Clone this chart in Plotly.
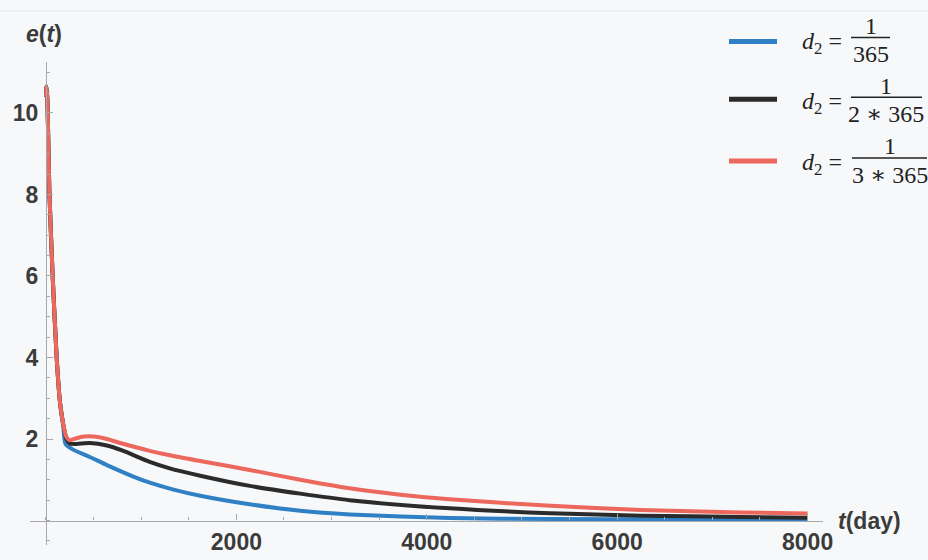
import plotly.graph_objects as go

# ---- data: e(t) for three values of d2 ----
t_red = [0, 6, 15, 35, 70, 112, 147, 182, 215, 250, 320, 400, 500, 640, 800, 1090,
         1300, 1620, 2140, 2670, 3190, 3700, 4240, 5300, 6250, 7300, 8000]
e_red = [10.4, 10.65, 10.3, 8.1, 6.0, 4.0, 2.9, 2.35, 2.05, 1.97, 2.02, 2.06, 2.06, 2.0,
         1.89, 1.71, 1.6, 1.46, 1.24, 1.0, 0.79, 0.64, 0.52, 0.36, 0.26, 0.2, 0.17]

t_black = [0, 6, 15, 35, 70, 112, 147, 182, 215, 250, 320, 460, 640, 800, 1090,
           1300, 1620, 2140, 2670, 3190, 4240, 5300, 6250, 7300, 8000]
e_black = [10.4, 10.65, 10.3, 8.1, 6.0, 4.0, 2.9, 2.35, 2.0, 1.89, 1.88, 1.9, 1.84,
           1.72, 1.44, 1.28, 1.1, 0.85, 0.66, 0.5, 0.3, 0.18, 0.12, 0.09, 0.07]

t_blue = [0, 6, 15, 35, 70, 112, 147, 182, 205, 285, 460, 640, 917, 1090, 1340,
          1620, 2140, 2670, 3190, 4240, 5300, 6500, 8000]
e_blue = [10.4, 10.65, 10.3, 8.1, 6.0, 4.0, 2.9, 2.3, 1.88, 1.74, 1.56, 1.36, 1.08,
          0.93, 0.76, 0.61, 0.4, 0.24, 0.15, 0.06, 0.04, 0.03, 0.02]

x_ticks = [2000, 4000, 6000, 8000]
y_ticks = [2, 4, 6, 8, 10]

series_names = ["1/365", "1/(2*365)", "1/(3*365)"]
denominators = ["365", "2 \u2217 365", "3 \u2217 365"]

BLUE = "#2f80c4"
BLACK = "#2b2b2b"
RED = "#ec675c"
AXIS = "#a8a8a8"
TEXT = "#3b3b3b"

W, H = 928, 560
# plot area in pixels
PL, PR, PT, PB = 30, 823, 62, 555
X_RANGE = [-168, 8162]
Y_RANGE = [-0.6, 11.25]


def px(x):
    return (x - PL) / (PR - PL)


def py(y):
    return (PB - y) / (PB - PT)


fig = go.Figure()
for t, e, c, n in [(t_blue, e_blue, BLUE, series_names[0]),
                   (t_black, e_black, BLACK, series_names[1]),
                   (t_red, e_red, RED, series_names[2])]:
    fig.add_trace(go.Scatter(x=t, y=e, mode="lines", name=n,
                             line=dict(color=c, width=4, shape="spline", smoothing=0.6),
                             showlegend=False))

tick_font = dict(family="Liberation Sans Narrow, Liberation Sans, Arial", size=23,
                 color=TEXT, weight="bold")

fig.update_layout(
    width=W, height=H,
    margin=dict(l=PL, r=W - PR, t=PT, b=H - PB),
    paper_bgcolor="#f7f8fa", plot_bgcolor="#f7f8fa",
    xaxis=dict(range=X_RANGE, showgrid=False, zeroline=False,
               anchor="free", position=(0 - Y_RANGE[0]) / (Y_RANGE[1] - Y_RANGE[0]),
               showline=True, linecolor=AXIS, linewidth=1.2,
               tickmode="array", tickvals=x_ticks, ticks="inside", ticklen=6,
               tickcolor=AXIS, tickwidth=1.2, tickfont=tick_font, ticklabelstandoff=1,
               minor=dict(tickmode="linear", tick0=0, dtick=500, ticks="inside",
                          ticklen=3, tickcolor=AXIS, tickwidth=1)),
    yaxis=dict(range=Y_RANGE, showgrid=False, zeroline=False,
               anchor="free", position=(0 - X_RANGE[0]) / (X_RANGE[1] - X_RANGE[0]),
               showline=True, linecolor=AXIS, linewidth=1.2,
               tickmode="array", tickvals=y_ticks, ticks="inside", ticklen=6,
               tickcolor=AXIS, tickwidth=1.2, tickfont=tick_font, ticklabelstandoff=3,
               minor=dict(tickmode="linear", tick0=0, dtick=0.5, ticks="inside",
                          ticklen=3, tickcolor=AXIS, tickwidth=1)),
)

label_font = dict(family="Liberation Sans, Arial", size=23, color=TEXT)
annotations = [
    dict(x=px(44), y=py(33), xref="paper", yref="paper", xanchor="center", yanchor="middle",
         text="<b><i>e</i>(<i>t</i>)</b>", showarrow=False, font=label_font),
    dict(x=px(836), y=py(530), xref="paper", yref="paper", xanchor="left", yanchor="middle",
         text="<b><i>t</i>(day)</b>", showarrow=False, font=label_font),
]
shapes = []

legend_rows = [
    # colour, line y, bar y, bar x0, bar x1
    (BLUE, 41, 37, 851, 890),
    (BLACK, 100, 98, 851, 922),
    (RED, 163, 160, 852, 927),
]
serif = dict(family="Liberation Serif, DejaVu Serif, serif", size=24, color="#222222")
for (col, ly, by, bx0, bx1), den in zip(legend_rows, denominators):
    shapes.append(dict(type="line", xref="paper", yref="paper",
                       x0=px(729), x1=px(777), y0=py(ly), y1=py(ly),
                       line=dict(color=col, width=5)))
    shapes.append(dict(type="line", xref="paper", yref="paper",
                       x0=px(bx0), x1=px(bx1), y0=py(by), y1=py(by),
                       line=dict(color="#222222", width=1.3)))
    annotations.append(dict(x=px(844), y=py(by + 6), xref="paper", yref="paper",
                            xanchor="right", yanchor="middle", showarrow=False,
                            text="<i>d</i><sub>2</sub> =", font=serif))
    annotations.append(dict(x=px((bx0 + bx1) / 2), y=py(by - 12), xref="paper", yref="paper",
                            xanchor="center", yanchor="middle", showarrow=False,
                            text="1", font=serif))
    annotations.append(dict(x=px((bx0 + bx1) / 2), y=py(by + 17), xref="paper", yref="paper",
                            xanchor="center", yanchor="middle", showarrow=False,
                            text=den, font=serif))

# faint rule across the top of the page
shapes.append(dict(type="line", xref="paper", yref="paper", x0=px(0), x1=px(W),
                   y0=py(10), y1=py(10), line=dict(color="#dcedf2", width=1)))

fig.update_layout(annotations=annotations, shapes=shapes)
fig.write_html("out.html")
